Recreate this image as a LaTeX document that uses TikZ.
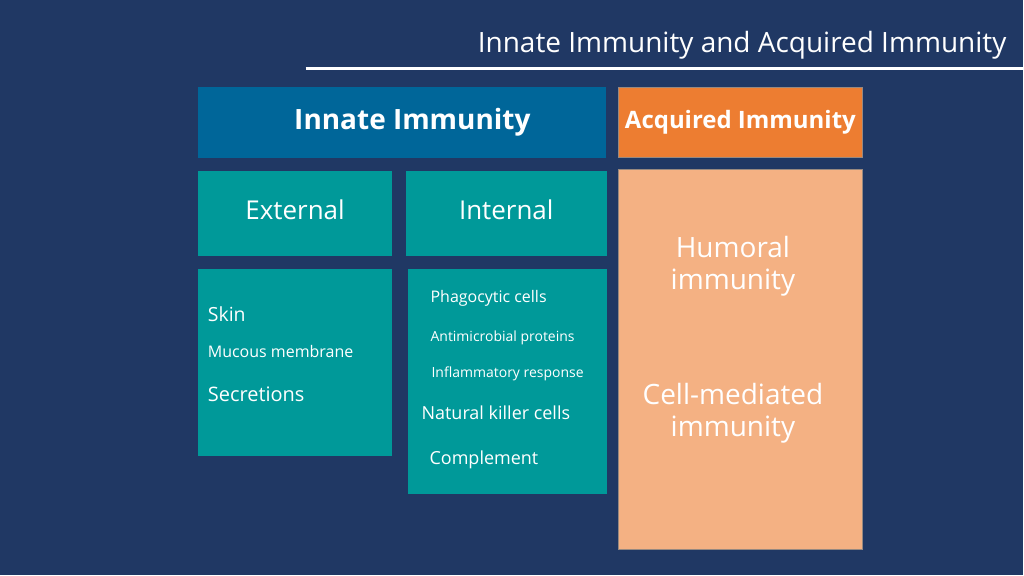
\documentclass[tikz,border=0pt]{standalone}
\usepackage{fontspec}
\setmainfont{Open Sans}
\definecolor{bg}{HTML}{203864}
\definecolor{innate}{HTML}{006699}
\definecolor{acq}{HTML}{ED7D31}
\definecolor{teal}{HTML}{009999}
\definecolor{peach}{HTML}{F4B183}
\tikzset{ box/.style = { rectangle % coloured panel
, inner sep = 0pt
, outer sep = 0pt
, text = white
, align = center
}
, edge/.style = { draw = gray!80!peach % thin rim
, line width = 0.6pt
}
, item/.style = { anchor = base west % list entry
, inner sep = 0pt
, text = white
}
}
\newcommand{\fs}[1]{\fontsize{#1pt}{#1pt}\selectfont}

\begin{document}
\begin{tikzpicture}[x=1pt, y=-1pt]
\fill[bg] (0,0) rectangle (1024,576);
\node[anchor=base east, inner sep=0pt, text=white, font=\fs{28}] (title) at (1008,53) {Innate Immunity and Acquired Immunity};
\coordinate (rl) at (306,69);
\coordinate (rr) at (1024,69);
\draw[white, line width=3pt] (rl) -- (rr);

\node[box, fill=innate, minimum width=409pt, minimum height=71pt] (innate) at (402.5,122.5) {};
\node[box, font=\bfseries\fs{28}] (innatetxt) at (413,122.5) {Innate Immunity};
\node[box, fill=acq, edge, minimum width=245pt, minimum height=71pt, font=\bfseries\fs{24}] (acquired) at (741.5,122.5) {Acquired Immunity};

\node[box, fill=teal, minimum width=195pt, minimum height=85pt, text depth=7pt, font=\fs{26}] (external) at (295.5,213.5) {External};
\node[box, fill=teal, minimum width=201pt, minimum height=85pt, text depth=7pt, font=\fs{26}] (internal) at (507,213.5) {Internal};

\node[box, fill=teal, minimum width=195pt, minimum height=188pt] (extlist) at (295.5,363) {};
\node[box, fill=teal, minimum width=199pt, minimum height=226pt] (intlist) at (508.5,382) {};
\node[box, fill=peach, edge, minimum width=245pt, minimum height=380pt] (acqlist) at (741.5,360) {};

% external barriers
\node[item, font=\fs{19.5}] (skin) at (208,322) {Skin};
\node[item, font=\fs{16}] (mucous) at (208,358) {Mucous membrane};
\node[item, font=\fs{20}] (secret) at (208,402) {Secretions};

% internal defences
\node[item, font=\fs{16}] (phago) at (431,303) {Phagocytic cells};
\node[item, font=\fs{14}] (antimic) at (431,342) {Antimicrobial proteins};
\node[item, font=\fs{14}] (inflam) at (432,378) {Inflammatory response};
\node[item, font=\fs{18}] (nk) at (422,420) {Natural killer cells};
\node[item, font=\fs{18}] (compl) at (430,465) {Complement};

% acquired branches
\node[box, font=\fontsize{28pt}{32pt}\selectfont] (humoral) at (734,267) {Humoral\\immunity};
\node[box, font=\fontsize{28pt}{32pt}\selectfont] (cellmed) at (734,414) {Cell-mediated\\immunity};
\end{tikzpicture}
\end{document}
